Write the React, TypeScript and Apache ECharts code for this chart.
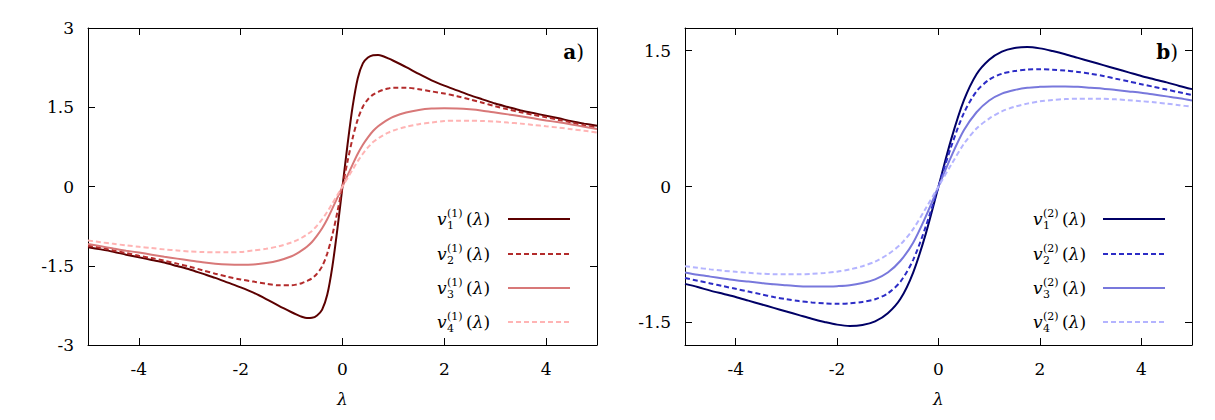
import React, { useEffect, useRef } from 'react';
import * as echarts from 'echarts';

// λ sample points for panel a) (step 0.1 near the origin, where v1 is steep)
const LAMBDA_A = [-5, -4.75, -4.5, -4.25, -4, -3.75, -3.5, -3.25, -3, -2.75, -2.5, -2.25, -2, -1.75, -1.5, -1.25, -1, -0.9, -0.8, -0.7, -0.6, -0.5, -0.4, -0.3, -0.2, -0.1, 0, 0.1, 0.2, 0.3, 0.4, 0.5, 0.6, 0.7, 0.8, 0.9, 1, 1.25, 1.5, 1.75, 2, 2.25, 2.5, 2.75, 3, 3.25, 3.5, 3.75, 4, 4.25, 4.5, 4.75, 5];

const V1_A = [-1.15, -1.19, -1.235, -1.29, -1.34, -1.39, -1.44, -1.505, -1.57, -1.65, -1.73, -1.82, -1.91, -2.01, -2.13, -2.26, -2.38, -2.425, -2.465, -2.49, -2.485, -2.44, -2.33, -2.05, -1.52, -0.8, 0, 0.8, 1.52, 2.05, 2.33, 2.44, 2.485, 2.49, 2.465, 2.425, 2.38, 2.26, 2.13, 2.01, 1.91, 1.82, 1.73, 1.65, 1.57, 1.505, 1.44, 1.39, 1.34, 1.29, 1.235, 1.19, 1.15];
const V2_A = [-1.12, -1.16, -1.21, -1.26, -1.31, -1.355, -1.405, -1.46, -1.52, -1.585, -1.65, -1.71, -1.76, -1.8, -1.84, -1.87, -1.87, -1.855, -1.83, -1.79, -1.74, -1.65, -1.51, -1.27, -0.92, -0.48, 0, 0.48, 0.92, 1.27, 1.51, 1.65, 1.74, 1.79, 1.83, 1.855, 1.87, 1.87, 1.84, 1.8, 1.76, 1.71, 1.65, 1.585, 1.52, 1.46, 1.405, 1.355, 1.31, 1.26, 1.21, 1.16, 1.12];
const V3_A = [-1.09, -1.13, -1.175, -1.215, -1.25, -1.29, -1.33, -1.365, -1.4, -1.435, -1.46, -1.475, -1.48, -1.475, -1.45, -1.4, -1.32, -1.27, -1.21, -1.14, -1.05, -0.93, -0.79, -0.62, -0.42, -0.21, 0, 0.21, 0.42, 0.62, 0.79, 0.93, 1.05, 1.14, 1.21, 1.27, 1.32, 1.4, 1.45, 1.475, 1.48, 1.475, 1.46, 1.435, 1.4, 1.365, 1.33, 1.29, 1.25, 1.215, 1.175, 1.13, 1.09];
const V4_A = [-1.02, -1.055, -1.085, -1.115, -1.14, -1.165, -1.19, -1.21, -1.23, -1.24, -1.245, -1.245, -1.24, -1.21, -1.18, -1.13, -1.06, -1.02, -0.97, -0.91, -0.84, -0.74, -0.62, -0.48, -0.32, -0.16, 0, 0.16, 0.32, 0.48, 0.62, 0.74, 0.84, 0.91, 0.97, 1.02, 1.06, 1.13, 1.18, 1.21, 1.24, 1.245, 1.245, 1.24, 1.23, 1.21, 1.19, 1.165, 1.14, 1.115, 1.085, 1.055, 1.02];

// λ sample points for panel b)
const LAMBDA_B = [-5, -4.75, -4.5, -4.25, -4, -3.75, -3.5, -3.25, -3, -2.75, -2.5, -2.25, -2, -1.75, -1.5, -1.25, -1, -0.75, -0.5, -0.25, 0, 0.25, 0.5, 0.75, 1, 1.25, 1.5, 1.75, 2, 2.25, 2.5, 2.75, 3, 3.25, 3.5, 3.75, 4, 4.25, 4.5, 4.75, 5];

const V1_B = [-1.075, -1.11, -1.15, -1.185, -1.22, -1.26, -1.3, -1.34, -1.38, -1.42, -1.46, -1.495, -1.525, -1.54, -1.53, -1.49, -1.4, -1.24, -0.95, -0.52, 0, 0.52, 0.95, 1.24, 1.4, 1.49, 1.53, 1.54, 1.525, 1.495, 1.46, 1.42, 1.38, 1.34, 1.3, 1.26, 1.22, 1.185, 1.15, 1.11, 1.075];
const V2_B = [-1.01, -1.04, -1.07, -1.1, -1.13, -1.16, -1.19, -1.22, -1.245, -1.265, -1.28, -1.29, -1.295, -1.29, -1.275, -1.245, -1.18, -1.05, -0.81, -0.44, 0, 0.44, 0.81, 1.05, 1.18, 1.245, 1.275, 1.29, 1.295, 1.29, 1.28, 1.265, 1.245, 1.22, 1.19, 1.16, 1.13, 1.1, 1.07, 1.04, 1.01];
const V3_B = [-0.95, -0.975, -0.995, -1.015, -1.035, -1.05, -1.065, -1.08, -1.09, -1.1, -1.105, -1.105, -1.1, -1.09, -1.065, -1.025, -0.95, -0.82, -0.62, -0.33, 0, 0.33, 0.62, 0.82, 0.95, 1.025, 1.065, 1.09, 1.1, 1.105, 1.105, 1.1, 1.09, 1.08, 1.065, 1.05, 1.035, 1.015, 0.995, 0.975, 0.95];
const V4_B = [-0.88, -0.898, -0.915, -0.93, -0.942, -0.953, -0.962, -0.968, -0.97, -0.97, -0.965, -0.955, -0.94, -0.915, -0.88, -0.83, -0.75, -0.64, -0.47, -0.24, 0, 0.24, 0.47, 0.64, 0.75, 0.83, 0.88, 0.915, 0.94, 0.955, 0.965, 0.97, 0.97, 0.968, 0.962, 0.953, 0.942, 0.93, 0.915, 0.898, 0.88];

const X_TICKS = [-4, -2, 0, 2, 4];
const Y_TICKS_A = [-3, -1.5, 0, 1.5, 3];
const Y_TICKS_B = [-1.5, 0, 1.5];

const SUBSCRIPTS = ['1', '2', '3', '4'];
const COLORS_A = ['#5c0000', '#b32b2b', '#d87878', '#ffb4b4'];
const COLORS_B = ['#000066', '#2c2cc6', '#7878dc', '#b4b4ff'];
const DASHED = [false, true, false, true];

const FONT = 'DejaVu Serif';
const FS = 17;

function pairs(xs: number[], ys: number[]) {
  return xs.map((x, i) => [x, ys[i]]);
}

function xAxis(gridIndex: number, position: 'bottom' | 'top', labels: boolean) {
  return {
    type: 'value',
    gridIndex,
    position,
    min: -5,
    max: 5,
    axisLine: { show: true, onZero: false, lineStyle: { color: '#000', width: 1 } },
    axisTick: { show: true, inside: true, length: 7, customValues: X_TICKS, lineStyle: { color: '#000', width: 1 } },
    axisLabel: { show: labels, customValues: X_TICKS, margin: 15, fontFamily: FONT, fontSize: FS, color: '#000' },
    splitLine: { show: false },
    name: labels ? 'λ' : '',
    nameLocation: 'middle',
    nameGap: 45,
    nameTextStyle: { fontFamily: FONT, fontSize: FS, fontStyle: 'italic', color: '#000' },
  };
}

function yAxis(gridIndex: number, position: 'left' | 'right', labels: boolean, min: number, max: number, ticks: number[]) {
  return {
    type: 'value',
    gridIndex,
    position,
    min,
    max,
    axisLine: { show: true, onZero: false, lineStyle: { color: '#000', width: 1 } },
    axisTick: { show: true, inside: true, length: 7, customValues: ticks, lineStyle: { color: '#000', width: 1 } },
    axisLabel: { show: labels, customValues: ticks, margin: 14, fontFamily: FONT, fontSize: FS, color: '#000' },
    splitLine: { show: false },
  };
}

function curve(name: string, xs: number[], ys: number[], color: string, dashed: boolean, axis: number) {
  return {
    type: 'line',
    name,
    xAxisIndex: axis,
    yAxisIndex: axis,
    data: pairs(xs, ys),
    showSymbol: false,
    smooth: 0.3,
    lineStyle: { color, width: 2, type: dashed ? [5, 3] : 'solid' },
    silent: true,
  };
}

// Legend rows: v_i^{(k)}(λ) followed by a short line sample
function legendRows(k: number, textX: number, lineX1: number, lineX2: number, colors: string[]) {
  const rowsY = [219, 254, 288, 322];
  const els: any[] = [];
  rowsY.forEach((y, i) => {
    els.push({
      type: 'text', x: textX, y, silent: true,
      style: { text: 'v', font: `italic ${FS}px "${FONT}"`, fill: '#000', verticalAlign: 'middle', align: 'left' },
    });
    els.push({
      type: 'text', x: textX + 10, y: y - 6, silent: true,
      style: { text: `(${k})`, font: `11px "${FONT}"`, fill: '#000', verticalAlign: 'middle', align: 'left' },
    });
    els.push({
      type: 'text', x: textX + 10, y: y + 6, silent: true,
      style: { text: SUBSCRIPTS[i], font: `11px "${FONT}"`, fill: '#000', verticalAlign: 'middle', align: 'left' },
    });
    els.push({
      type: 'text', x: textX + 29, y, silent: true,
      style: {
        text: '({i|λ})',
        font: `${FS}px "${FONT}"`,
        fill: '#000',
        verticalAlign: 'middle',
        align: 'left',
        rich: { i: { fontStyle: 'italic', fontFamily: FONT, fontSize: FS, fill: '#000' } },
      },
    });
    els.push({
      type: 'line', silent: true,
      shape: { x1: lineX1, y1: y, x2: lineX2, y2: y },
      style: { stroke: colors[i], lineWidth: 2, lineDash: DASHED[i] ? [5, 3] : null },
    });
  });
  return els;
}

function cornerLabel(letter: string, x: number, y: number) {
  return {
    type: 'text', x, y, silent: true,
    style: {
      text: `{b|${letter}})`,
      font: `20px "${FONT}"`,
      fill: '#000',
      align: 'right',
      verticalAlign: 'middle',
      rich: { b: { fontWeight: 'bold', fontFamily: FONT, fontSize: 20, fill: '#000' } },
    },
  };
}

export default function App() {
  const ref = useRef<HTMLDivElement>(null);

  useEffect(() => {
    document.body.style.margin = '0';
    const chart = echarts.init(ref.current!, null, { renderer: 'svg' });
    const seriesA = [V1_A, V2_A, V3_A, V4_A].map((ys, i) =>
      curve(`v${i + 1}(1)`, LAMBDA_A, ys, COLORS_A[i], DASHED[i], 0)
    );
    const seriesB = [V1_B, V2_B, V3_B, V4_B].map((ys, i) =>
      curve(`v${i + 1}(2)`, LAMBDA_B, ys, COLORS_B[i], DASHED[i], 2)
    );
    // Axes 1 and 3 (top / right) only draw the rest of the frame and the mirrored ticks
    chart.setOption({
      animation: false,
      backgroundColor: '#fff',
      grid: [
        { left: 88, top: 28, width: 509, height: 317 },
        { left: 685, top: 28, width: 507, height: 317 },
      ],
      xAxis: [
        xAxis(0, 'bottom', true),
        xAxis(0, 'top', false),
        xAxis(1, 'bottom', true),
        xAxis(1, 'top', false),
      ],
      yAxis: [
        yAxis(0, 'left', true, -3, 3, Y_TICKS_A),
        yAxis(0, 'right', false, -3, 3, Y_TICKS_A),
        yAxis(1, 'left', true, -1.75, 1.75, Y_TICKS_B),
        yAxis(1, 'right', false, -1.75, 1.75, Y_TICKS_B),
      ],
      series: [...seriesA, ...seriesB],
      graphic: [
        ...legendRows(1, 437, 508, 570, COLORS_A),
        ...legendRows(2, 1033, 1103, 1165, COLORS_B),
        cornerLabel('a', 584, 52),
        cornerLabel('b', 1178, 52),
      ],
    });
    return () => chart.dispose();
  }, []);

  return <div ref={ref} style={{ width: 1215, height: 420, background: '#fff' }} />;
}
